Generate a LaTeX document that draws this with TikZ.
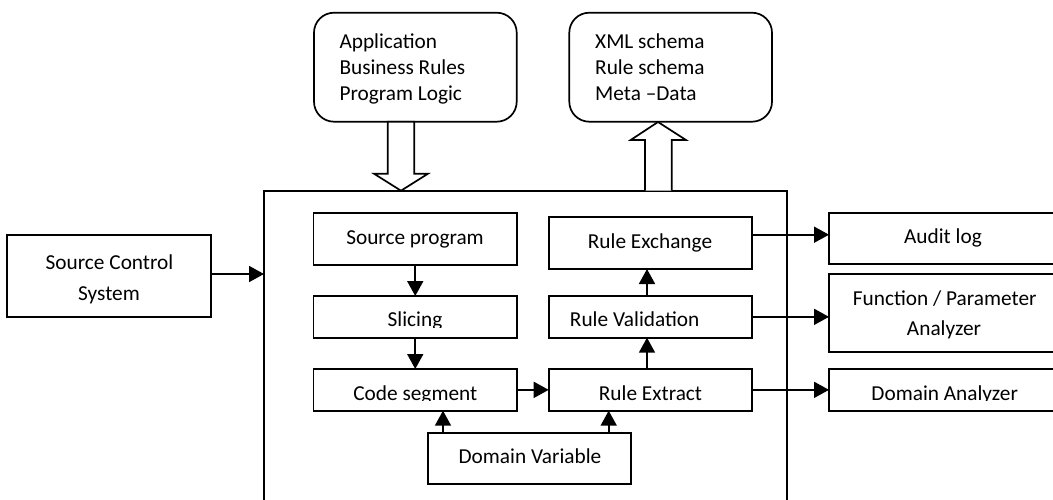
\documentclass[tikz,border=0pt]{standalone}
\usepackage{fontspec}
\setmainfont{Carlito}
\usetikzlibrary{arrows.meta}
\tikzset{
  x=1pt,y=-1pt,
  boxnode/.style={draw=black,line width=1.7pt,rectangle,inner sep=0pt,outer sep=0pt,fill=white},
  roundbox/.style={boxnode,rounded corners=20pt},
  label/.style={anchor=base,inner sep=0pt,font=\fontsize{21.3}{25}\selectfont,text=black},
  leftlabel/.style={label,anchor=base west},
  flow/.style={draw=black,line width=1.8pt,-{Triangle[length=15pt,width=16pt]},shorten >=0pt},
  blockarrow/.style={draw=black,line width=1.7pt,fill=white,line join=miter}
}
\begin{document}
\begin{tikzpicture}
\useasboundingbox (0,0) rectangle (1053,499);
\clip (0,0) rectangle (1053,499);
\fill[white] (0,0) rectangle (1053,499);
% outer frame (runs off the page at the bottom)
\node[boxnode,minimum width=522.7pt,minimum height=330pt] (outer) at (525.35,355.7) {};
% top rounded boxes
\node[roundbox,minimum width=202.7pt,minimum height=109pt] (app) at (415.35,67.2) {};
\node[roundbox,minimum width=202.7pt,minimum height=109pt] (xml) at (670.65,67.2) {};
% block arrows
\draw[blockarrow] (387.7,121.7) -- (414.3,121.7) -- (414.3,173.7) -- (428,173.7) -- (401,190.7) -- (374,173.7) -- (387.7,173.7) -- cycle;
\draw[blockarrow] (645,190.7) -- (645,140) -- (630.7,140) -- (658,122) -- (686,140) -- (671.7,140) -- (671.7,190.7);
% inner boxes
\node[boxnode,minimum width=203.5pt,minimum height=52.3pt] (srcprog) at (415.25,238.85) {};
\node[boxnode,minimum width=203.5pt,minimum height=41.7pt] (slice) at (415.25,316.85) {};
\node[boxnode,minimum width=203.5pt,minimum height=41.7pt] (code) at (415.25,389.85) {};
\node[boxnode,minimum width=203.3pt,minimum height=51.3pt] (domvar) at (529.35,458.35) {};
\node[boxnode,minimum width=203.3pt,minimum height=52pt] (exch) at (650.35,243) {};
\node[boxnode,minimum width=203.3pt,minimum height=41.7pt] (valid) at (650.35,316.85) {};
\node[boxnode,minimum width=203.3pt,minimum height=41.7pt] (extract) at (650.35,389.85) {};
% right boxes (run off the page at the right)
\node[boxnode,minimum width=240pt,minimum height=51pt] (audit) at (949,238.5) {};
\node[boxnode,minimum width=240pt,minimum height=78pt] (func) at (949,312.7) {};
\node[boxnode,minimum width=240pt,minimum height=41.7pt] (domana) at (949,389.85) {};
% left box
\node[boxnode,minimum width=203.7pt,minimum height=82pt] (scs) at (109.15,276) {};
% connectors
\coordinate (scsout) at ([yshift=2pt]scs.east);
\draw[flow] (scsout) -- (scsout -| outer.west);
\draw[flow] (srcprog.south) -- (slice.north);
\draw[flow] (slice.south) -- (code.north);
\draw[flow] (code.east) -- (extract.west);
\draw[flow] ([xshift=-86.35pt]domvar.north) -- ([xshift=27.75pt]code.south);
\draw[flow] ([xshift=79.35pt]domvar.north) -- ([xshift=-41.65pt]extract.south);
\draw[flow] ([xshift=-3.35pt]extract.north) -- ([xshift=-3.35pt]valid.south);
\draw[flow] ([xshift=-3.35pt]valid.north) -- ([xshift=-3.35pt]exch.south);
\coordinate (exchout) at ([yshift=8.3pt]exch.east);
\draw[flow] (exchout) -- (exchout -| audit.west);
\draw[flow] (valid.east) -- (valid.east -| func.west);
\draw[flow] (extract.east) -- (domana.west);
% labels
\node[leftlabel] (l1) at (339.3,48.3) {Application};
\node[leftlabel] (l2) at (339.3,74) {Business Rules};
\node[leftlabel] (l3) at (339.3,100) {Program Logic};
\node[leftlabel] (l4) at (595,48.3) {XML schema};
\node[leftlabel] (l5) at (595,74) {Rule schema};
\node[leftlabel] (l6) at (595,100) {Meta –Data};
\node[label] (l7) at (415,244) {Source program};
\begin{scope}
\clip (320,300) rectangle (510,327.5);
\node[label] (l8) at (415,326.7) {Slicing};
\end{scope}
\begin{scope}
\clip (320,372) rectangle (510,400.5);
\node[label] (l9) at (415.3,400) {Code segment};
\end{scope}
\node[label] (l10) at (530,463) {Domain Variable};
\node[label] (l11) at (650,248.3) {Rule Exchange};
\node[label] (l12) at (634.7,326.7) {Rule Validation};
\node[label] (l13) at (650.5,400) {Rule Extract};
\node[label] (l14) at (943,243) {Audit log};
\node[label] (l15) at (944.7,305) {Function / Parameter};
\node[label] (l16) at (944,335) {Analyzer};
\begin{scope}
\clip (835,372) rectangle (1050,400.5);
\node[label] (l17) at (944.7,400) {Domain Analyzer};
\end{scope}
\node[label] (l18) at (109.5,269.3) {Source Control};
\node[label] (l19) at (109,300) {System};
\end{tikzpicture}
\end{document}
